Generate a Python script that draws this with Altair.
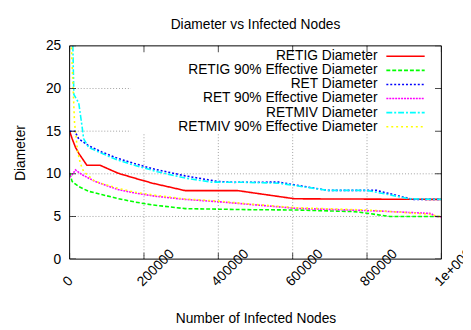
import altair as alt
import pandas as pd

SERIES = ["RETIG Diameter", "RETIG 90% Effective Diameter", "RET Diameter",
          "RET 90% Effective Diameter", "RETMIV Diameter", "RETMIV 90% Effective Diameter"]
COLORS = ["#ff0000", "#00ff00", "#0000ff", "#ff00ff", "#00ffff", "#ffff00"]
DASHES = [[1, 0], [4, 2], [2, 2], [2, 1], [6, 2, 2, 2], [2, 3]]

X_TICKS = [0, 200000, 400000, 600000, 800000, 1000000]
Y_TICKS = [0, 5, 10, 15, 20, 25]
X_GRID = [200000, 400000, 600000, 800000]
Y_GRID = [5, 10, 15, 20]

retig_x = [0, 6900, 15900, 24600, 46500, 82000, 130300, 174400, 222800, 310800, 452000, 606000, 1000000]
retig_y = [15, 14.1, 13.1, 12.4, 11.0, 11.0, 10.07, 9.5, 8.9, 8.03, 8.03, 7.07, 7.0]

retig90_x = [0, 6900, 24600, 51000, 86200, 130300, 174400, 222800, 310800, 474000, 606000, 764600, 800000, 861600, 1000000]
retig90_y = [10.1, 9.1, 8.5, 7.95, 7.57, 7.1, 6.7, 6.35, 5.92, 5.8, 5.76, 5.57, 5.38, 5.0, 5.0]

ret_x = [0, 14000, 24600, 51000, 86200, 130300, 174400, 222800, 310800, 399100, 443000, 562000, 606000, 694000, 826200, 852600, 923200, 1000000]
ret_y = [15, 15, 14.1, 13.3, 12.56, 11.8, 11.2, 10.6, 9.76, 9.1, 9.0, 9.03, 8.7, 8.06, 8.06, 7.76, 7.0, 7.0]

ret90_x = [0, 6900, 15900, 33300, 68700, 130300, 174400, 230000, 310800, 399100, 487100, 606000, 826200, 971600, 984800, 1000000]
ret90_y = [9.6, 9.9, 10.45, 9.9, 9.1, 8.15, 7.76, 7.37, 7.0, 6.73, 6.4, 5.96, 5.65, 5.35, 5.0, 4.95]

retmiv_x = [0, 11400, 24600, 33300, 37800, 51000, 86200, 130300, 174400, 236000, 310800, 381400, 474000, 562000, 694000, 800000, 914500, 1000000]
retmiv_y = [43, 19.3, 18.3, 15.6, 14.1, 13.1, 12.4, 11.6, 11.0, 10.25, 9.5, 9.03, 9.0, 8.9, 8.06, 8.06, 7.07, 7.0]

retmiv90_x = [0, 13200, 21900, 29100, 37800, 68700, 130300, 174400, 236000, 310800, 399100, 474000, 606000, 800000, 967300, 993800, 1000000]
retmiv90_y = [30, 16, 12.5, 11.2, 10.25, 9.1, 8.3, 7.85, 7.45, 7.05, 6.8, 6.5, 6.03, 5.76, 5.26, 5.0, 5.0]

ALL_X = [retig_x, retig90_x, ret_x, ret90_x, retmiv_x, retmiv90_x]
ALL_Y = [retig_y, retig90_y, ret_y, ret90_y, retmiv_y, retmiv90_y]

rows = []
for i, (name, xs_, ys_) in enumerate(zip(SERIES, ALL_X, ALL_Y)):
    for x, y in zip(xs_, ys_):
        rows.append({"series": name, "nodes": x, "diameter": y, "k": i})
df = pd.DataFrame(rows)

FONT = "Liberation Sans"
W, H = 378.3, 217

color_enc = alt.Color("series:N", scale=alt.Scale(domain=SERIES, range=COLORS), legend=None)
dash_enc = alt.StrokeDash("series:N", scale=alt.Scale(domain=SERIES, range=DASHES), legend=None)

x_axis = alt.Axis(values=X_TICKS, grid=False, ticks=False, domain=False,
                  labelExpr="datum.value >= 1000000 ? '1e+006' : format(datum.value, 'd')",
                  labelAngle=315, labelAlign="left", labelBaseline="alphabetic",
                  labelPadding=28, labelOffset=-2, labelFlush=False, labelOverlap=False,
                  labelFontSize=14, labelFont=FONT, labelColor="black",
                  title="Number of Infected Nodes", titleFontSize=14, titleFont=FONT,
                  titleFontWeight="normal", titleColor="black", titleY=61, titleBaseline="middle")
y_axis = alt.Axis(values=Y_TICKS, grid=False, ticks=False, domain=False,
                  labelPadding=9, labelFontSize=14, labelFont=FONT, labelColor="black",
                  title="Diameter", titleFontSize=14, titleFont=FONT, titleFontWeight="normal",
                  titleColor="black", titleX=-50, titleY=H / 2, titleAngle=270,
                  titleBaseline="middle", titleAlign="center")

xs = alt.Scale(domain=[0, 1000000], nice=False, zero=False)
ys = alt.Scale(domain=[0, 25], nice=False, zero=False)

one = pd.DataFrame({"a": [0]})
xg = pd.DataFrame({"g": X_GRID})
yg = pd.DataFrame({"g": Y_GRID})
grid_x = alt.Chart(xg).mark_rule(color="#a0a0a0", strokeWidth=1, strokeDash=[1, 2]).encode(
    x=alt.X("g:Q", scale=xs, axis=x_axis))
grid_y = alt.Chart(yg).mark_rule(color="#a0a0a0", strokeWidth=1, strokeDash=[1, 2]).encode(
    y=alt.Y("g:Q", scale=ys, axis=y_axis))

keybox = alt.Chart(one).mark_rect(color="white").encode(
    x=alt.value(62.3), x2=alt.value(377.5), y=alt.value(1), y2=alt.value(89.3))

lines = alt.Chart(df).mark_line(strokeWidth=1.6, clip=True).encode(
    x=alt.X("nodes:Q", scale=xs, axis=x_axis),
    y=alt.Y("diameter:Q", scale=ys, axis=y_axis),
    color=color_enc, strokeDash=dash_enc, order="nodes:Q")

xt = pd.DataFrame({"t": X_TICKS})
yt = pd.DataFrame({"t": Y_TICKS})
xticks_b = alt.Chart(xt).mark_tick(orient="vertical", size=13, thickness=1, color="black", clip=True).encode(
    x=alt.X("t:Q", scale=xs, axis=x_axis), y=alt.datum(0))
xticks_t = alt.Chart(xt).mark_tick(orient="vertical", size=13, thickness=1, color="black", clip=True).encode(
    x=alt.X("t:Q", scale=xs, axis=x_axis), y=alt.datum(25))
yticks_l = alt.Chart(yt).mark_tick(orient="horizontal", size=13, thickness=1, color="black", clip=True).encode(
    y=alt.Y("t:Q", scale=ys, axis=y_axis), x=alt.datum(0))
yticks_r = alt.Chart(yt).mark_tick(orient="horizontal", size=13, thickness=1, color="black", clip=True).encode(
    y=alt.Y("t:Q", scale=ys, axis=y_axis), x=alt.datum(1000000))
frame = alt.Chart(one).mark_rect(fillOpacity=0, stroke="black", strokeWidth=1).encode(
    x=alt.datum(0), x2=alt.datum(1000000), y=alt.datum(0), y2=alt.datum(25))

main = alt.layer(grid_x, grid_y, keybox, lines, xticks_b, xticks_t, yticks_l, yticks_r, frame)

leg_df = pd.DataFrame({"series": SERIES})
leg_y = alt.Y("series:N", scale=alt.Scale(type="point", domain=SERIES, range=[10.6, 82.3], padding=0), axis=None)
leg_text = alt.Chart(leg_df).mark_text(align="right", baseline="middle", fontSize=14, font=FONT, color="black").encode(
    x=alt.value(313.3), y=leg_y, text="series:N")
leg_rule = alt.Chart(leg_df).mark_rule(strokeWidth=1.6).encode(
    x=alt.value(322.3), x2=alt.value(361.3), y=leg_y, color=color_enc, strokeDash=dash_enc)
legend = alt.layer(leg_text, leg_rule)

chart = alt.layer(main, legend).resolve_scale(y="independent").properties(
    width=W, height=H,
    title=alt.TitleParams("Diameter vs Infected Nodes", fontSize=14, fontWeight="normal",
                          font=FONT, color="black", offset=7, anchor="middle"),
    autosize=alt.AutoSizeParams(type="none"),
    padding={"left": 62.7, "top": 35.7, "right": 22, "bottom": 70},
).configure_view(stroke=None)

chart.save("out.html", embed_options={"renderer": "svg", "actions": False})
